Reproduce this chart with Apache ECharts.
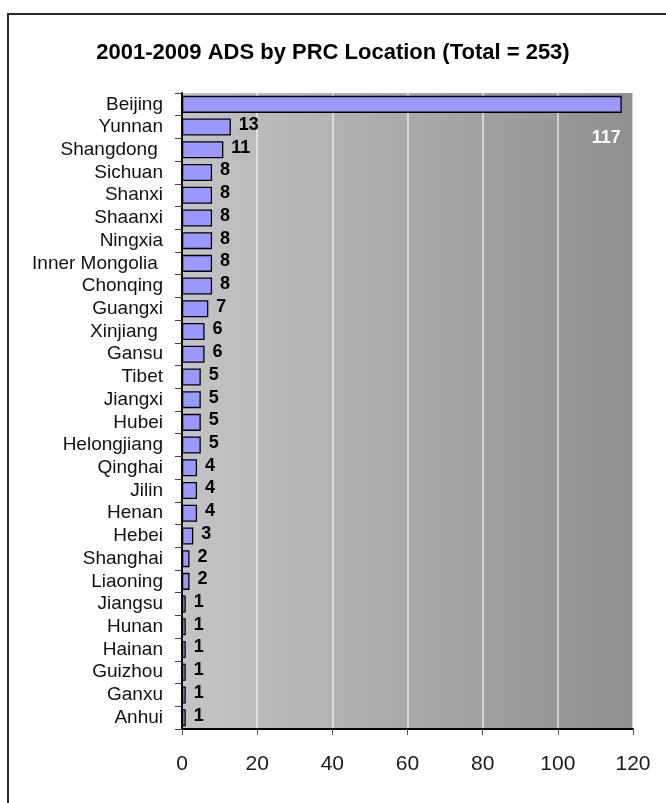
<!DOCTYPE html>
<html>
<head>
<meta charset="utf-8">
<script src="https://cdn.jsdelivr.net/npm/echarts@6/dist/echarts.min.js"></script>
<style>
  html, body { margin: 0; padding: 0; background: #ffffff; }
  #chart { width: 666px; height: 803px; }
</style>
</head>
<body>
<div id="chart"></div>
<script>
// Provinces, listed top to bottom
const provinces = [
  'Beijing', 'Yunnan', 'Shangdong ', 'Sichuan', 'Shanxi', 'Shaanxi', 'Ningxia',
  'Inner Mongolia ', 'Chonqing', 'Guangxi', 'Xinjiang ', 'Gansu', 'Tibet',
  'Jiangxi', 'Hubei', 'Helongjiang', 'Qinghai', 'Jilin', 'Henan', 'Hebei',
  'Shanghai', 'Liaoning', 'Jiangsu', 'Hunan', 'Hainan', 'Guizhou', 'Ganxu', 'Anhui'
];
// ADS counts per province
const counts = [
  117, 13, 11, 8, 8, 8, 8,
  8, 8, 7, 6, 6, 5,
  5, 5, 5, 4, 4, 4, 3,
  2, 2, 1, 1, 1, 1, 1, 1
];
const xTicks = { min: 0, max: 120, interval: 20 };

const chart = echarts.init(document.getElementById('chart'), null, { renderer: 'canvas' });

const seriesData = counts.map((v, i) => {
  if (i === 0) {
    // the long bar carries its value inside the plot, just below its end
    return {
      value: v,
      label: {
        position: 'insideRight',
        distance: 1,
        offset: [0, 34],
        color: '#ffffff'
      }
    };
  }
  return v;
});

chart.setOption({
  backgroundColor: '#ffffff',
  animation: false,
  title: {
    text: '2001-2009 ADS by PRC Location (Total = 253)',
    left: 'center',
    top: 37,
    textStyle: {
      fontFamily: 'Liberation Sans, Arial, sans-serif',
      fontWeight: 'bold',
      fontSize: 22,
      color: '#000000'
    }
  },
  graphic: [{
    type: 'rect',
    shape: { x: 8, y: 14, width: 700, height: 820 },
    style: { fill: 'none', stroke: '#2b2b2b', lineWidth: 2 },
    silent: true,
    z: 100
  }],
  grid: {
    left: 182,
    right: 33,
    top: 93,
    bottom: 74,
    show: true,
    borderWidth: 0,
    backgroundColor: {
      type: 'linear', x: 0, y: 0, x2: 1, y2: 0,
      colorStops: [
        { offset: 0, color: '#c4c4c4' },
        { offset: 1, color: '#8f8f8f' }
      ]
    }
  },
  xAxis: {
    type: 'value',
    min: xTicks.min,
    max: xTicks.max,
    interval: xTicks.interval,
    axisLine: { show: true, lineStyle: { color: '#000000', width: 2 } },
    axisTick: { show: true, length: 6, lineStyle: { color: '#555555' } },
    splitLine: { show: true, lineStyle: { color: 'rgba(255,255,255,0.75)', width: 1.5 } },
    axisLabel: {
      margin: 25,
      fontFamily: 'Liberation Sans, Arial, sans-serif',
      fontSize: 21,
      color: '#1a1a1a'
    }
  },
  yAxis: {
    type: 'category',
    inverse: true,
    data: provinces,
    axisLine: { show: true, lineStyle: { color: '#000000', width: 2 } },
    axisTick: { show: true, length: 7, inside: false, interval: 0, lineStyle: { color: '#444444' } },
    axisLabel: {
      interval: 0,
      margin: 19,
      fontFamily: 'Liberation Sans, Arial, sans-serif',
      fontSize: 19,
      lineHeight: 19,
      color: '#111111'
    }
  },
  series: [{
    type: 'bar',
    data: seriesData,
    barCategoryGap: '25%',
    itemStyle: {
      color: '#9999ff',
      borderColor: '#000000',
      borderWidth: 1.3
    },
    label: {
      show: true,
      position: 'right',
      distance: 8,
      offset: [0, -2],
      fontFamily: 'Liberation Sans, Arial, sans-serif',
      fontWeight: 'bold',
      fontSize: 18,
      color: '#000000'
    }
  }]
});
</script>
</body>
</html>
